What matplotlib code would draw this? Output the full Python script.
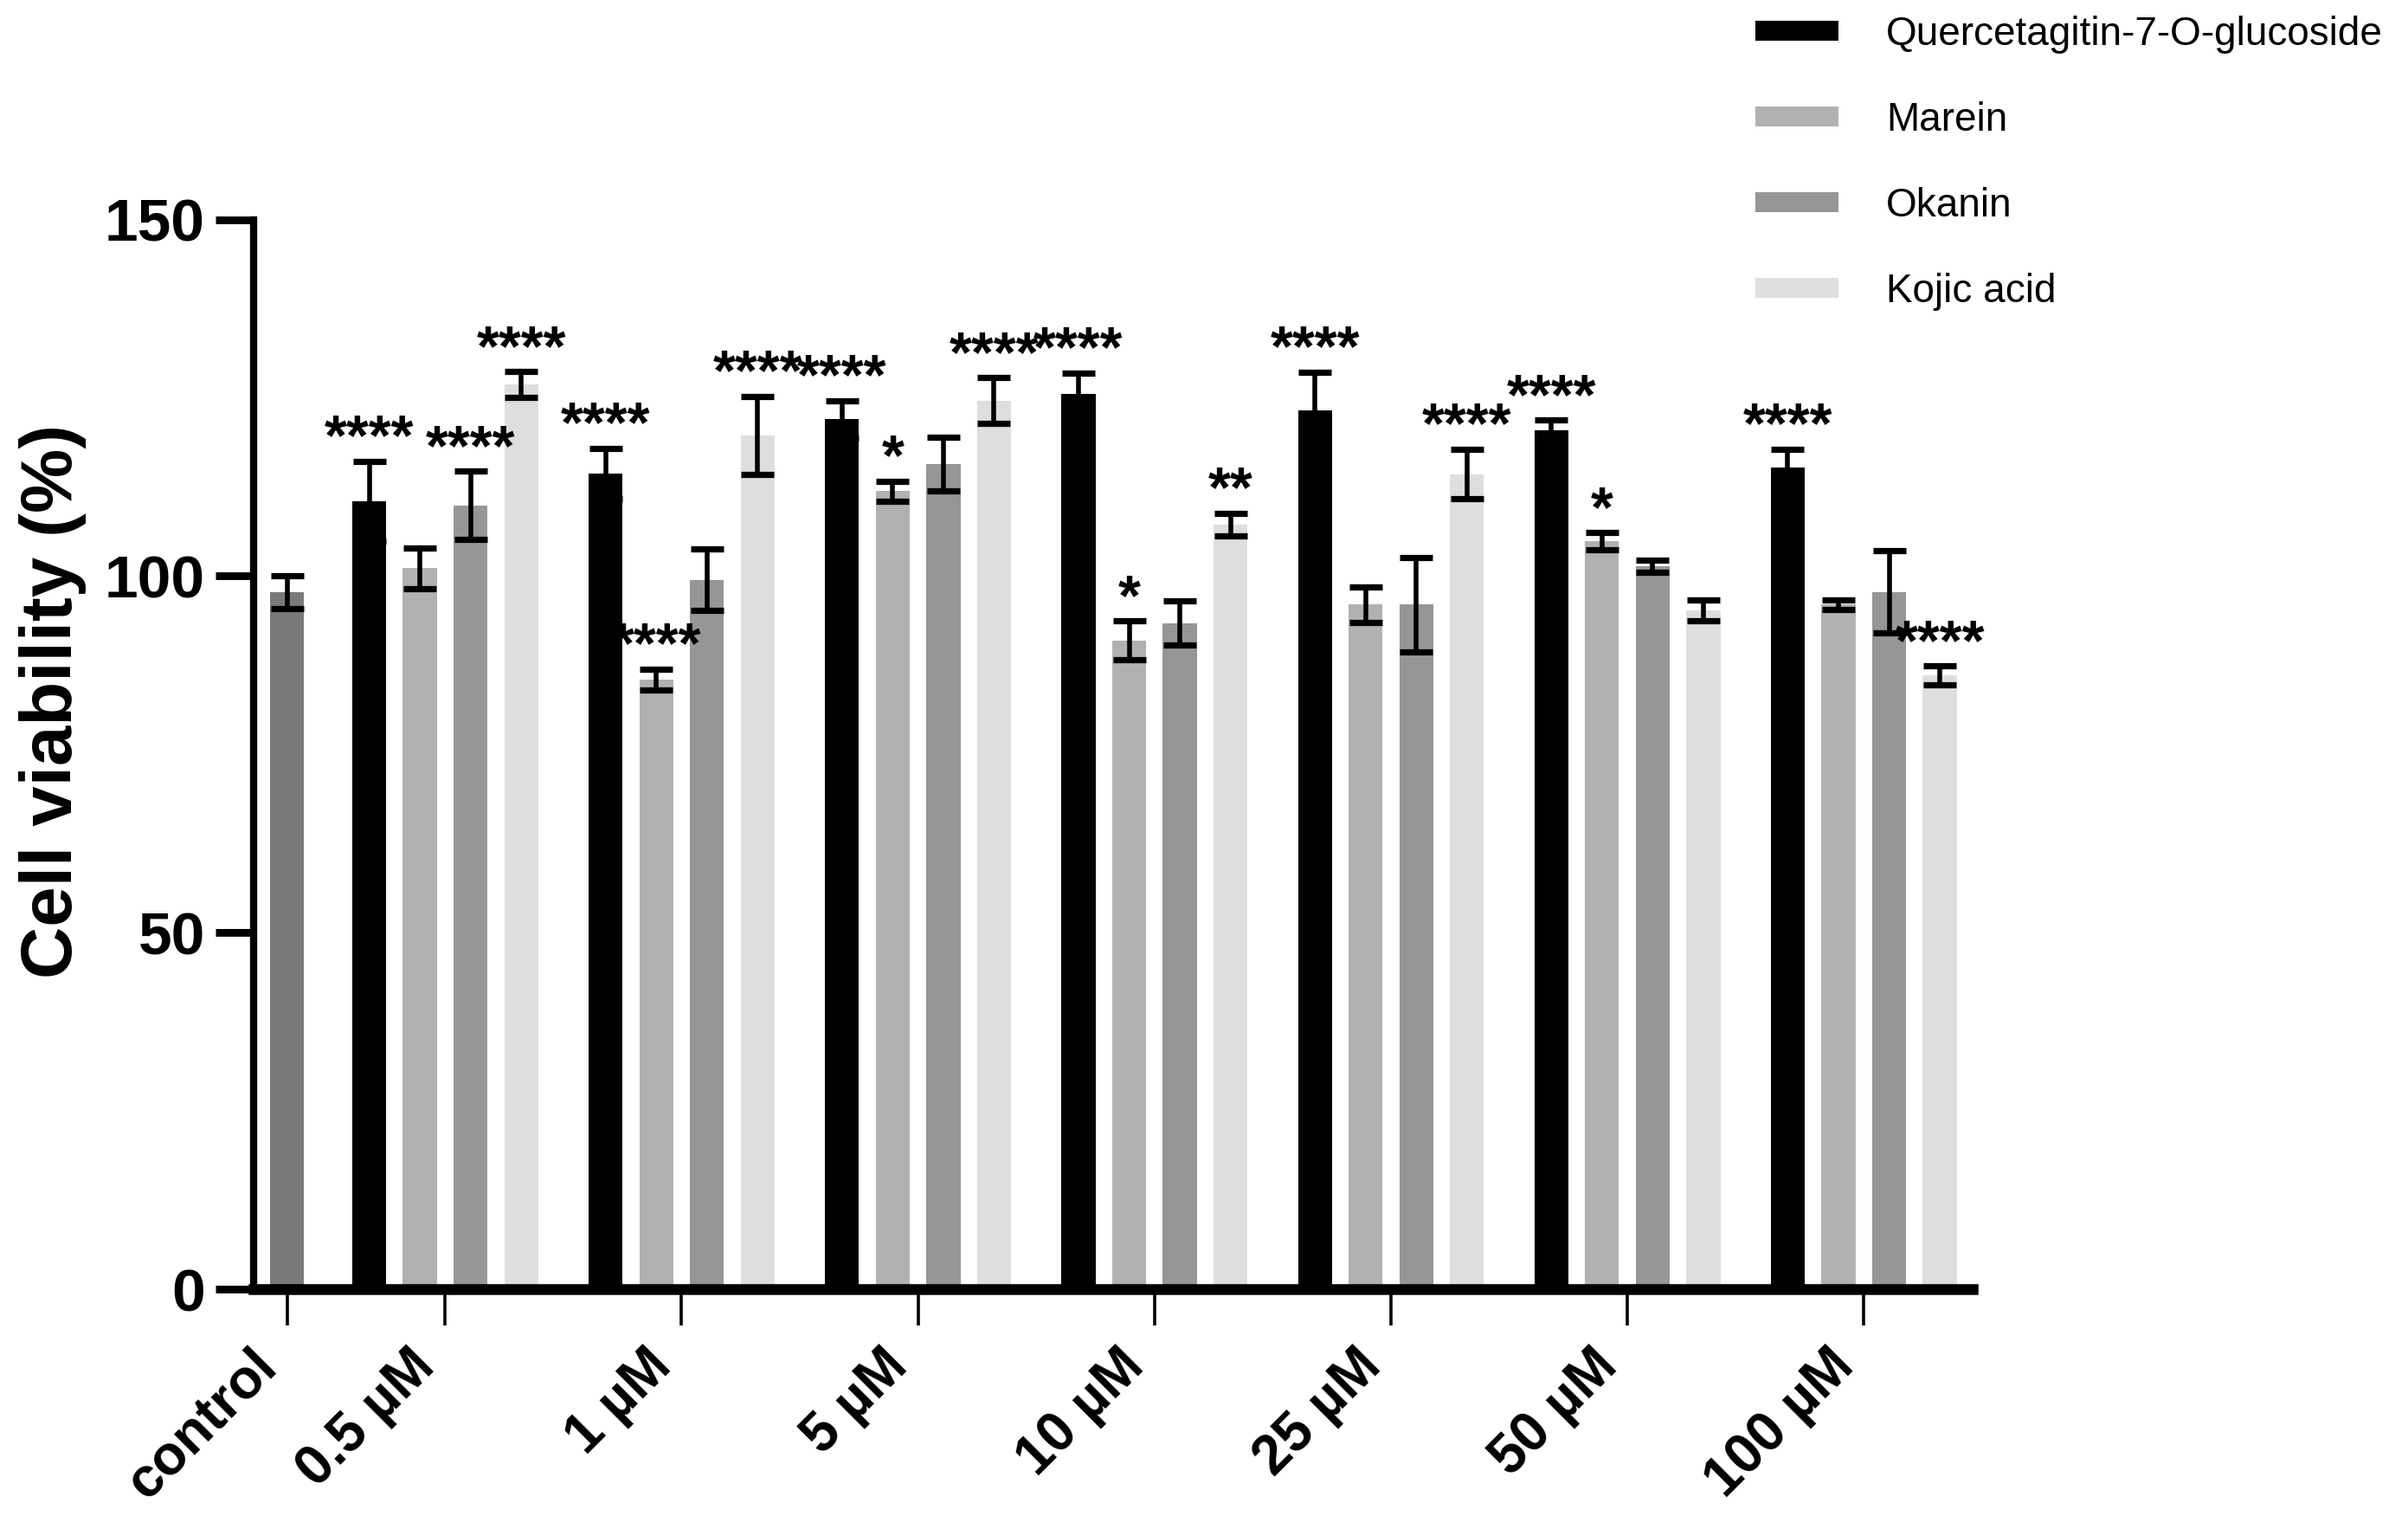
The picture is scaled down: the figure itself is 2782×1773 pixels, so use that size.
import numpy as np
import matplotlib
matplotlib.use("Agg")
import matplotlib.pyplot as plt

plt.rcParams["font.family"] = ["Liberation Sans", "DejaVu Sans"]

# data (cell viability, %)
groups = ["0.5 µM", "1 µM", "5 µM", "10 µM", "25 µM", "50 µM", "100 µM"]
control_val = 97.8
control_err = 2.3
series = ["Quercetagitin-7-O-glucoside", "Marein", "Okanin", "Kojic acid"]
quer = [110.5, 114.4, 122.0, 125.5, 123.3, 120.4, 115.2]
quer_err = [5.6, 3.5, 2.6, 3.0, 5.3, 1.5, 2.6]
marein = [101.1, 85.5, 111.9, 91.0, 96.0, 104.9, 96.0]
marein_err = [2.9, 1.5, 1.4, 2.7, 2.5, 1.2, 0.7]
okanin = [109.9, 99.5, 115.7, 93.4, 96.0, 101.4, 97.8]
okanin_err = [4.8, 4.3, 3.8, 3.1, 6.6, 0.9, 5.8]
kojic = [126.9, 119.7, 124.6, 107.2, 114.3, 95.2, 86.1]
kojic_err = [1.8, 5.5, 3.2, 1.6, 3.5, 1.5, 1.3]
quer_sig = ["****"] * 7
marein_sig = ["", "****", "*", "*", "", "*", ""]
okanin_sig = ["****", "", "", "", "", "", ""]
kojic_sig = ["****", "****", "****", "**", "****", "", "****"]

colors = ["#000000", "#b1b1b1", "#969696", "#dedede"]
control_color = "#7a7a7a"

vals = [quer, marein, okanin, kojic]
errs = [quer_err, marein_err, okanin_err, kojic_err]
sigs = [quer_sig, marein_sig, okanin_sig, kojic_sig]

fig = plt.figure(figsize=(13.91, 8.865), dpi=200)
ax = fig.add_axes([0.1052, 0.16, 0.714, 0.697])

w = 0.67
centers = 3.12 + 4.667 * np.arange(len(groups))
offsets = [-1.5, -0.5, 0.5, 1.5]
ekw = dict(elinewidth=2.0, capthick=2.6, ecolor="black")

ax.bar(0, control_val, w, color=control_color, zorder=2)
ax.errorbar(0, control_val, yerr=control_err, fmt="none", capsize=7, zorder=3, **ekw)

handles = []
for k in range(4):
    xs = centers + offsets[k]
    h = ax.bar(xs, vals[k], w, color=colors[k], label=series[k], zorder=2)
    handles.append(h)
    ax.errorbar(xs, vals[k], yerr=errs[k], fmt="none", capsize=7, zorder=3, **ekw)
    for x, v, e, s in zip(xs, vals[k], errs[k], sigs[k]):
        if s:
            ax.text(x, v + e - 0.8, s, ha="center", va="bottom", fontsize=24,
                    fontweight="bold", zorder=4)

ax.set_xlim(-0.667, 33.27)
ax.set_ylim(0, 150)
ax.set_yticks([0, 50, 100, 150])
ax.set_yticklabels(["0", "50", "100", "150"], fontsize=25, fontweight="bold")
ax.set_xticks(np.concatenate([[0], centers]))
ax.set_xticklabels(["control"] + groups, fontsize=23, fontweight="bold",
                   rotation=45, ha="right")
ax.tick_params(axis="y", length=16, width=3.2, pad=4)
ax.tick_params(axis="x", length=15, width=1.3, pad=6)
ax.set_ylabel("Cell viability (%)", fontsize=30, fontweight="bold")
ax.yaxis.set_label_coords(-0.097, 0.55)

for side in ["top", "right"]:
    ax.spines[side].set_visible(False)
ax.spines["left"].set_linewidth(3.0)
ax.spines["bottom"].set_linewidth(4.5)

fig.legend(handles=handles, labels=series, loc="upper left",
           bbox_to_anchor=(0.714, 1.013), frameon=False, fontsize=16.5,
           handlelength=2.1, handleheight=0.4, labelspacing=1.2,
           handletextpad=1.2)

fig.savefig("out.png", dpi=200)
